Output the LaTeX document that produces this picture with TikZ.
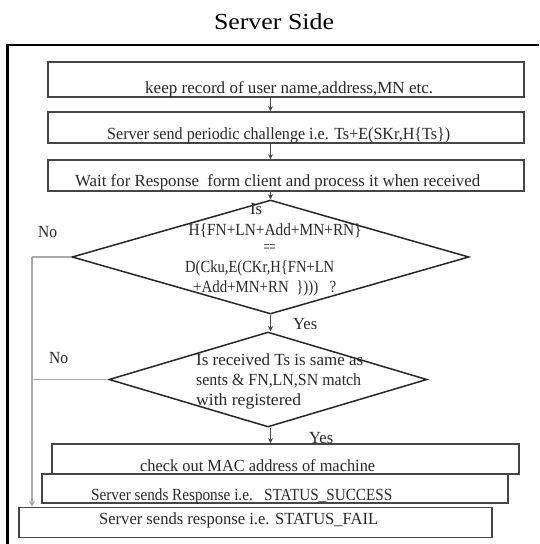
\documentclass[tikz,border=0pt]{standalone}
\usepackage{fontspec}
\usepackage{graphicx}
\setmainfont{Liberation Serif}
\usetikzlibrary{shapes.geometric,arrows.meta}
\definecolor{boxline}{HTML}{454545}
\definecolor{txt}{HTML}{282828}
\definecolor{rail}{HTML}{A8A8A8}
\newcommand{\fitto}[2]{\resizebox{#1pt}{\height}{#2}}
\tikzset{
  box/.style={draw=boxline, line width=1.6pt, fill=white, inner sep=0pt},
  dia/.style={diamond, draw=black!85, line width=1.5pt, inner sep=0pt},
  lbl/.style={anchor=base, text=txt, inner sep=0pt, font=\fontsize{17}{20}\selectfont},
  lbll/.style={anchor=base west, text=txt, inner sep=0pt, font=\fontsize{17}{20}\selectfont},
  arr/.style={draw=boxline, line width=1pt, -{Stealth[length=5pt,width=5pt]}},
  noline/.style={draw=rail, line width=1.5pt},
}
\begin{document}
\begin{tikzpicture}[x=1pt,y=-1pt]
\useasboundingbox (0,0) rectangle (539,544);
% title
\node[anchor=base, inner sep=0pt, font=\fontsize{23}{27}\selectfont] (title) at (274,29) {\fitto{120}{Server Side}};
% frame
\draw[line width=2.2pt] (7.5,544) -- (7.5,45) -- (539,45);
% boxes
\node[box, minimum width=476, minimum height=35] (b1) at (286,79.5) {};
\node[box, minimum width=476, minimum height=31] (b2) at (286,127.5) {};
\node[box, minimum width=476, minimum height=31] (b3) at (286,175.5) {};
\node[dia, minimum width=397, minimum height=114] (d1) at (270.5,257) {};
\node[dia, minimum width=318, minimum height=95] (d2) at (268,379.5) {};
\node[box, minimum width=473, minimum height=30] (b6) at (255.5,522.5) {};
\node[box, minimum width=466, minimum height=29] (b5) at (275,488.5) {};
\node[box, minimum width=467, minimum height=30] (b4) at (285.5,459) {};
% box texts
\node[lbll] (t1) at (145,93) {\fitto{288}{keep record of user name,address,MN etc.}};
\node[lbll] (t2) at (107,139) {\fitto{343}{Server send periodic challenge i.e. Ts+E(SKr,H\{Ts\})}};
\node[lbll] (t3) at (75,186.5) {\fitto{405}{Wait for Response\ \ form client and process it when received}};
\node[lbll] (t4) at (140,471) {\fitto{235}{check out MAC address of machine}};
\node[lbll] (t5) at (91,500) {\fitto{301}{Server sends Response i.e.\ \ \ STATUS\_SUCCESS}};
\node[lbll] (t6) at (99,524) {\fitto{279}{Server sends response i.e. STATUS\_FAIL}};
% diamond 1 text
\node[lbll] (q1a) at (250,214) {\fitto{12}{Is}};
\node[lbll] (q1b) at (188.5,235.5) {\fitto{173}{H\{FN+LN+Add+MN+RN\}}};
\node[lbll] (q1c) at (263.5,252.5) {\fitto{12}{==}};
\node[lbll] (q1d) at (185,272) {\fitto{149}{D(Cku,E(CKr,H\{FN+LN}};
\node[lbll] (q1e) at (193,292) {\fitto{143}{+Add+MN+RN\ \ \})))\ \ \ ?}};
% diamond 2 text
\node[lbll] (q2a) at (196,365.5) {\fitto{167}{Is received Ts is same as}};
\node[lbll] (q2b) at (196,385.5) {\fitto{165}{sents \& FN,LN,SN match}};
\node[lbll] (q2c) at (196,405) {\fitto{105}{with registered}};
% labels
\node[lbll] (no1) at (38,237) {\fitto{19}{No}};
\node[lbll] (no2) at (49,363) {\fitto{19}{No}};
\node[lbll] (yes1) at (293,329.5) {\fitto{24}{Yes}};
\node[lbll] (yes2) at (309,443) {\fitto{24}{Yes}};
% connectors
\draw[arr] (b1.south -| d1.north) -- (b2.north -| d1.north);
\draw[arr] (b2.south -| d1.north) -- (b3.north -| d1.north);
\draw[arr] (b3.south -| d1.north) -- (d1.north);
\draw[arr] (d1.south) -- (d2.north -| d1.south);
\draw[arr] (d2.south -| d1.south) -- (b4.north -| d1.south);
\coordinate (rail) at (32,257);
\draw[noline] (d1.west) -- (d1.west -| rail);
\draw[noline] (d2.west) -- (d2.west -| rail);
\draw[noline, -{Stealth[length=6pt,width=6pt]}] (rail) -- (b6.north -| rail);
\end{tikzpicture}
\end{document}
